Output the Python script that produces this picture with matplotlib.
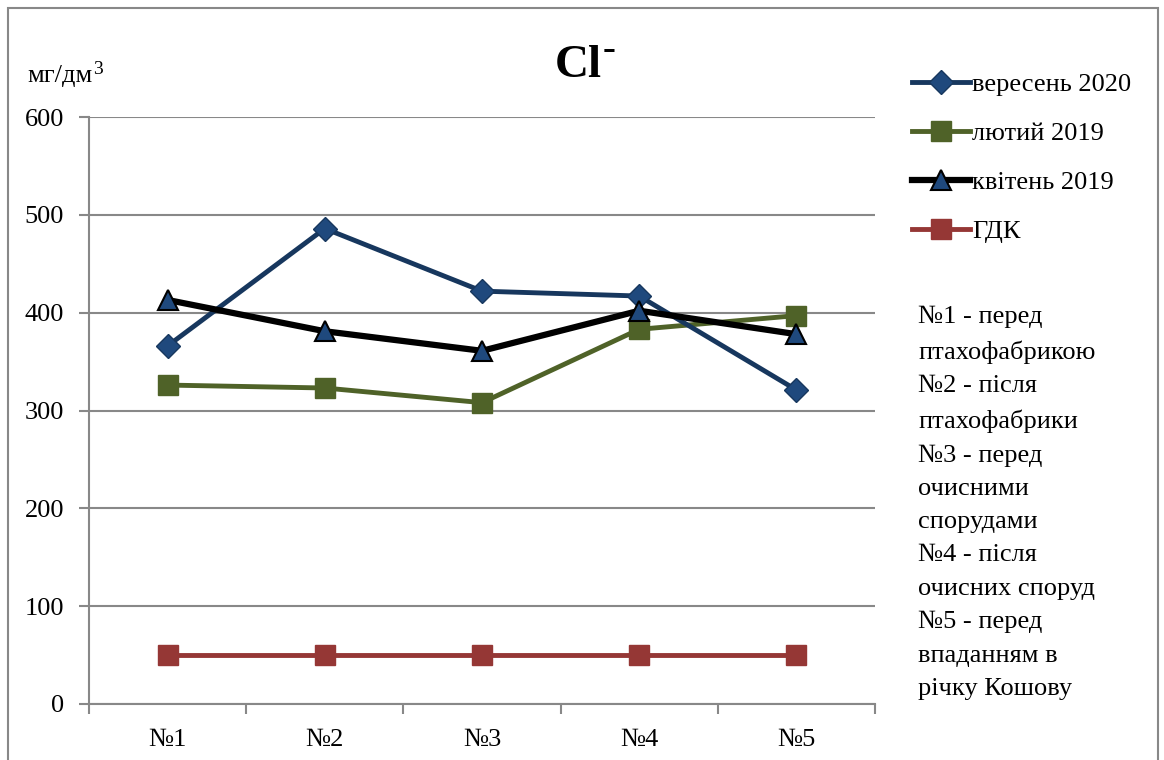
import matplotlib
matplotlib.use('Agg')
import matplotlib.pyplot as plt
from matplotlib.patches import Rectangle
import numpy as np

plt.rcParams['font.family'] = ['Liberation Serif', 'DejaVu Serif']

points = ['№1', '№2', '№3', '№4', '№5']
sep2020 = [366, 486, 422, 417, 321]
feb2019 = [326, 323, 308, 383, 397]
apr2019 = [413, 381, 361, 402, 378]
gdk = [50, 50, 50, 50, 50]
notes = ['№1 - перед', 'птахофабрикою', '№2 - після', 'птахофабрики',
         '№3 - перед', 'очисними', 'спорудами', '№4 - після',
         'очисних споруд', '№5 - перед', 'впаданням в', 'річку Кошову']

fig = plt.figure(figsize=(11.64, 7.6), dpi=100)
ax = fig.add_axes([89/1164, 56/760, 786/1164, 587/760])

x = np.arange(len(points))
ax.plot(x, sep2020, color='#17375E', lw=3.5, marker='D', ms=12,
        mfc='#1F497D', mec='#17375E', label='вересень 2020', zorder=4)
ax.plot(x, feb2019, color='#4F6228', lw=3.5, marker='s', ms=14,
        mfc='#4F6228', mec='#4F6228', label='лютий 2019', zorder=3)
ax.plot(x, apr2019, color='black', lw=4.5, marker='^', ms=15,
        mfc='#1F497D', mec='black', mew=1.5, label='квітень 2019', zorder=5)
ax.plot(x, gdk, color='#953735', lw=3.5, marker='s', ms=14,
        mfc='#953735', mec='#953735', label='ГДК', zorder=3)

ax.set_xlim(-0.5, len(points) - 0.5)
ax.set_ylim(0, 600)
ax.set_yticks(range(0, 601, 100))
ax.set_xticks(x)
ax.set_xticklabels(points)
ax.set_xticks(np.arange(-0.5, len(points), 1), minor=True)
ax.tick_params(axis='x', which='major', length=0, pad=18, labelsize=19)
ax.tick_params(axis='x', which='minor', length=7, color='#888888', width=1.5)
ax.tick_params(axis='y', length=7, color='#888888', width=1.5, labelsize=19, pad=11)
ax.grid(axis='y', color='#888888', lw=1.5)
ax.set_axisbelow(True)
for s in ['top', 'right']:
    ax.spines[s].set_visible(False)
for s in ['left', 'bottom']:
    ax.spines[s].set_color('#888888')
    ax.spines[s].set_linewidth(1.5)

fig.text(555/1164, 1 - 66/760, 'Cl', fontsize=34, fontweight='bold', va='center', ha='left')
fig.text(603/1164, 1 - 50/760, '-', fontsize=28, fontweight='bold', va='center', ha='left')
fig.text(27/1164, 1 - 76/760, 'мг/дм', fontsize=19, va='center', ha='left')
fig.text(93/1164, 1 - 69/760, '3', fontsize=14, va='center', ha='left')

fig.legend(loc='upper left', bbox_to_anchor=(888/1164, 1 - 49/760), frameon=False,
           fontsize=19, handlelength=2.2, handletextpad=0.1, labelspacing=0.97)

fig.text(918/1164, 1 - 306/760, '\n'.join(notes), fontsize=19, va='top', ha='left',
         linespacing=1.66)

fig.patches.append(Rectangle((8/1164, -0.01), 1150/1164, 1 - 8/760 + 0.01,
                             transform=fig.transFigure, fill=False,
                             edgecolor='#888888', lw=1.5))

fig.savefig('out.png', dpi=100)
